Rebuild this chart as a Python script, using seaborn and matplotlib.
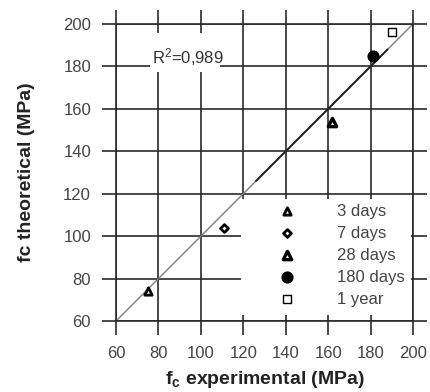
import numpy as np
import pandas as pd
import seaborn as sns
import matplotlib.pyplot as plt
from matplotlib.patches import Rectangle

# datos
edades = ["3 days", "7 days", "28 days", "180 days", "1 year"]
fc_exp = [75, 111, 162, 181, 190]
fc_teo = [74, 104, 154, 185, 196]
r2_texto = r"R$^2$=0,989"

ticks = [60, 80, 100, 120, 140, 160, 180, 200]

sns.set_style("white")
plt.rcParams['font.family'] = ['Liberation Sans', 'DejaVu Sans']
plt.rcParams['mathtext.fontset'] = 'custom'
plt.rcParams['mathtext.rm'] = 'Liberation Sans'
plt.rcParams['mathtext.it'] = 'Liberation Sans:italic'
plt.rcParams['mathtext.bf'] = 'Liberation Sans:bold'

df = pd.DataFrame({"edad": edades, "x": fc_exp, "y": fc_teo})

fig = plt.figure(figsize=(4.3, 3.92), dpi=100)
ax = fig.add_axes([0.2698, 0.1811, 0.6907, 0.7577])

gris = "#2a2a2a"

# linea 1:1 y tramo grueso
sns.lineplot(x=[60, 200], y=[60, 200], color="#808080", lw=1.0, ax=ax, zorder=3)
sns.lineplot(x=[126, 188], y=[126, 188], color="#222222", lw=1.4, ax=ax, zorder=3)

estilos = {
    "3 days": dict(marker="^", s=28, facecolor="white", edgecolor="black", linewidth=2.0),
    "7 days": dict(marker="D", s=16, facecolor="white", edgecolor="black", linewidth=2.0),
    "28 days": dict(marker="^", s=36, facecolor="white", edgecolor="black", linewidth=2.4),
    "180 days": dict(marker="o", s=60, facecolor="black", edgecolor="black", linewidth=1.0),
    "1 year": dict(marker="s", s=36, facecolor="white", edgecolor="black", linewidth=1.0),
}
for e in edades:
    sub = df[df["edad"] == e]
    sns.scatterplot(data=sub, x="x", y="y", label=e, ax=ax, zorder=6, **estilos[e])

# cajas blancas que tapan la rejilla
ax.add_patch(Rectangle((119, 62.8), 80, 54.7, facecolor="white", edgecolor="none", zorder=4))
ax.add_patch(Rectangle((76, 177.4), 33, 18.4, facecolor="white", edgecolor="none", zorder=4))
ax.text(77, 184.5, r2_texto, fontsize=12, color="#333333", va="center", ha="left", zorder=5)

ax.set_xlim(60, 200)
ax.set_ylim(60, 200)
ax.set_xticks(ticks)
ax.set_yticks(ticks)
ax.grid(True, color=gris, lw=1.2)
ax.set_axisbelow(True)
for sp in ax.spines.values():
    sp.set_visible(True)
    sp.set_color(gris)
    sp.set_linewidth(1.2)
    sp.set_zorder(5)
ax.tick_params(axis="both", which="both", direction="out", length=10, width=1.2,
               color=gris, labelsize=12, labelcolor="#444444", pad=8,
               top=True, right=True, bottom=True, left=True,
               labeltop=False, labelright=False)

ax.set_xlabel(r"f$_\mathbf{c}$ experimental (MPa)", fontsize=14, fontweight="bold",
              color="#222222", labelpad=6)
ax.set_ylabel("fc theoretical (MPa)", fontsize=14, fontweight="bold",
              color="#222222", labelpad=20)

leg = ax.legend(loc="upper left", bbox_to_anchor=(0.518, 0.395), frameon=False,
                fontsize=12, handlelength=2, handletextpad=2.05, labelspacing=0.42,
                borderpad=0, borderaxespad=0)
for t in leg.get_texts():
    t.set_color("#444444")
leg.set_zorder(7)

fig.savefig("out.png", dpi=100)
